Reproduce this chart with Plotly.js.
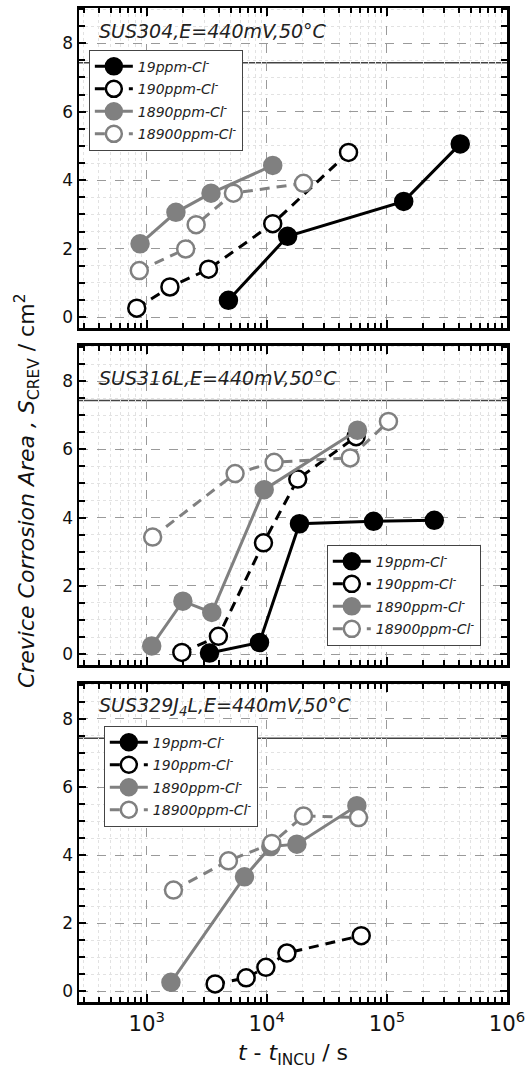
<!DOCTYPE html>
<html>
<head>
<meta charset="utf-8">
<script src="https://cdn.plot.ly/plotly-3.0.1.min.js"></script>
<style>
  html, body { margin: 0; padding: 0; background: #fff; }
  #chart { width: 526px; height: 1070px; }
</style>
</head>
<body>
<div id="chart"></div>
<script>
// Crevice corrosion area S_CREV (cm^2) versus time after incubation t - t_INCU (s)

// SUS304
const t304_19    = [4790, 14900, 138000, 408000];
const s304_19    = [0.49, 2.36, 3.38, 5.06];
const t304_190   = [826, 1560, 3270, 11200, 47900];
const s304_190   = [0.26, 0.88, 1.40, 2.73, 4.81];
const t304_1890  = [880, 1750, 3430, 11200];
const s304_1890  = [2.14, 3.06, 3.62, 4.43];
const t304_18900 = [867, 2110, 2580, 5270, 20200];
const s304_18900 = [1.36, 1.99, 2.70, 3.62, 3.91];

// SUS316L
const t316_19    = [3330, 8690, 18700, 77400, 248000];
const s316_19    = [0.03, 0.34, 3.82, 3.89, 3.92];
const t316_190   = [1960, 3950, 9380, 18100, 55400];
const s316_190   = [0.05, 0.52, 3.26, 5.13, 6.37];
const t316_1890  = [1100, 2000, 3480, 9510, 56900];
const s316_1890  = [0.24, 1.55, 1.22, 4.82, 6.56];
const t316_18900 = [1120, 5440, 11500, 49400, 103000];
const s316_18900 = [3.43, 5.29, 5.62, 5.75, 6.82];

// SUS329J4L (no 19 ppm data)
const t329_19    = [null];
const s329_19    = [null];
const t329_190   = [3710, 6730, 9820, 14700, 61100];
const s329_190   = [0.21, 0.39, 0.70, 1.12, 1.63];
const t329_1890  = [1590, 6520, 10800, 17800, 56200];
const s329_1890  = [0.26, 3.36, 4.25, 4.32, 5.45];
const t329_18900 = [1670, 4790, 11000, 20200, 58000];
const s329_18900 = [2.97, 3.83, 4.34, 5.15, 5.10];

// Total crevice area (horizontal reference line)
const FULL_AREA = 7.43;

const seriesNames = ['19ppm-Cl<sup>-</sup>', '190ppm-Cl<sup>-</sup>', '1890ppm-Cl<sup>-</sup>', '18900ppm-Cl<sup>-</sup>'];
const panelTitles = ['SUS304,E=440mV,50°C', 'SUS316L,E=440mV,50°C', 'SUS329J<sub>4</sub>L,E=440mV,50°C'];

const panels = [
  [[t304_19, s304_19], [t304_190, s304_190], [t304_1890, s304_1890], [t304_18900, s304_18900]],
  [[t316_19, s316_19], [t316_190, s316_190], [t316_1890, s316_1890], [t316_18900, s316_18900]],
  [[t329_19, s329_19], [t329_190, s329_190], [t329_1890, s329_1890], [t329_18900, s329_18900]]
];

const GRAY = '#808080';
const styles = [
  { color: '#000', dash: 'solid', fill: '#000' },
  { color: '#000', dash: '10px,7px', fill: '#fff' },
  { color: GRAY,   dash: 'solid', fill: GRAY },
  { color: GRAY,   dash: '10px,7px', fill: '#fff' }
];

const FONT = 'DejaVu Sans';
const traces = [];
panels.forEach((series, p) => {
  const sfx = p === 0 ? '' : String(p + 1);
  series.forEach(([t, s], k) => {
    const st = styles[k];
    traces.push({
      type: 'scatter', mode: 'lines+markers',
      x: t, y: s,
      xaxis: 'x' + sfx, yaxis: 'y' + sfx,
      name: seriesNames[k],
      legend: 'legend' + sfx,
      legendgroup: 'p' + p + 's' + k,
      line: { color: st.color, width: 3, dash: st.dash },
      marker: { symbol: 'circle', size: 17, color: st.fill, line: { color: st.color, width: 2.5 } },
      hoverinfo: 'x+y+name'
    });
  });
});

// Vertical placement of the three stacked panels (paper fractions)
const domains = [[0.678, 1.0], [0.339, 0.660], [0.0, 0.320]];

function xAxis(p) {
  return {
    type: 'log', range: [2.436, 6.0],
    anchor: p === 0 ? 'y' : 'y' + (p + 1),
    dtick: 1, exponentformat: 'power',
    showticklabels: p === 2,
    ticks: 'inside', ticklen: 8, tickwidth: 2, tickcolor: '#000',
    showline: true, linecolor: '#000', linewidth: 2.5, mirror: 'allticks',
    showgrid: true, gridcolor: '#9a9a9a', gridwidth: 1, griddash: 'dash',
    minor: { dtick: 'D1', ticks: 'inside', ticklen: 5, tickwidth: 2, tickcolor: '#000',
             showgrid: true, gridcolor: '#e2e2e2', gridwidth: 1, griddash: 'dot' },
    tickfont: { family: FONT, size: 17, color: '#111' },
    ticklabelstandoff: 2,
    zeroline: false, fixedrange: true
  };
}
function yAxis(p) {
  return {
    domain: domains[p],
    anchor: p === 0 ? 'x' : 'x' + (p + 1),
    range: [-0.32, 9.03],
    tick0: 0, dtick: 2,
    ticks: 'inside', ticklen: 7, tickwidth: 2, tickcolor: '#000',
    showline: true, linecolor: '#000', linewidth: 2.5, mirror: 'allticks',
    showgrid: true, gridcolor: '#9a9a9a', gridwidth: 1, griddash: 'dash',
    minor: { dtick: 0.5, ticks: 'inside', ticklen: 6, tickwidth: 2, tickcolor: '#000',
             showgrid: true, gridcolor: '#e2e2e2', gridwidth: 1, griddash: 'dot' },
    tickfont: { family: FONT, size: 17, color: '#111' },
    ticklabelstandoff: 0,
    zeroline: false, fixedrange: true
  };
}

const legendBase = {
  bgcolor: '#fff', bordercolor: '#444', borderwidth: 1,
  font: { family: FONT, size: 14, style: 'italic', color: '#222' },
  itemwidth: 38, tracegroupgap: 1.3, xanchor: 'left', yanchor: 'top', itemclick: false
};

const layout = {
  width: 526, height: 1070,
  margin: { l: 79, r: 19, t: 8, b: 68 },
  paper_bgcolor: '#fff', plot_bgcolor: '#fff',
  font: { family: FONT, color: '#111' },
  xaxis: xAxis(0), xaxis2: xAxis(1), xaxis3: Object.assign(xAxis(2), {
    title: { text: '<i>t</i> - <i>t</i><sub>INCU</sub> / s', font: { family: FONT, size: 22, color: '#111' }, standoff: 10 }
  }),
  yaxis: yAxis(0), yaxis2: yAxis(1), yaxis3: yAxis(2),
  legend:  Object.assign({}, legendBase, { x: 0.023, y: 0.958 }),
  legend2: Object.assign({}, legendBase, { x: 0.579, y: 0.460 }),
  legend3: Object.assign({}, legendBase, { x: 0.058, y: 0.278 }),
  shapes: [0, 1, 2].map(p => {
    const sfx = p === 0 ? '' : String(p + 1);
    return { type: 'line', xref: 'x' + sfx + ' domain', x0: 0, x1: 1,
             yref: 'y' + sfx, y0: FULL_AREA, y1: FULL_AREA,
             line: { color: '#444', width: 1.5 }, layer: 'below' };
  }),
  annotations: panelTitles.map((txt, p) => {
    const sfx = p === 0 ? '' : String(p + 1);
    return { text: txt, xref: 'x' + sfx + ' domain', x: 0.042, xanchor: 'left',
             yref: 'y' + sfx, y: [8.35, 8.08, 8.36][p], yanchor: 'middle',
             showarrow: false,
             font: { family: FONT, size: 19, style: 'italic', color: '#222' } };
  }).concat([{
    text: '<i>Crevice Corrosion Area , S</i><sub>CREV</sub> / cm<sup>2</sup>',
    xref: 'paper', yref: 'paper', x: -0.1215, y: 0.515,
    xanchor: 'center', yanchor: 'middle', textangle: -90, showarrow: false,
    font: { family: FONT, size: 22, color: '#111' }
  }]),
  showlegend: true
};

Plotly.newPlot('chart', traces, layout, { staticPlot: true, displayModeBar: false });
</script>
</body>
</html>
